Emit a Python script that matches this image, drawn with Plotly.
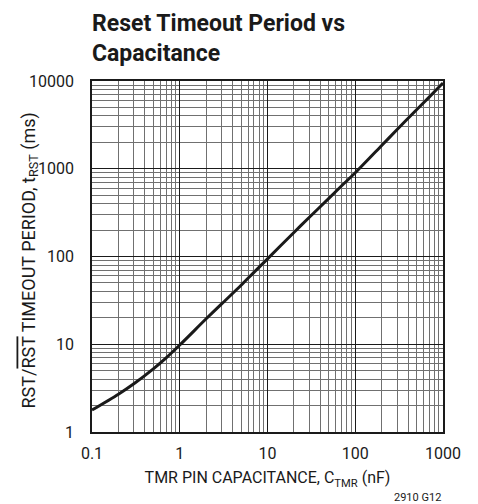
import plotly.graph_objects as go

# Data (log-log)
cap_nf = [0.1, 0.2, 0.3, 0.5, 0.7, 1, 2, 3, 5, 7, 10, 20, 30, 50, 70, 100, 200, 300, 500, 700, 1000]
t_rst_ms = [1.78, 2.7, 3.55, 5.25, 7.0, 9.8, 19.5, 28.8, 47, 66, 94, 188, 280, 460, 640, 900,
            1840, 2800, 4700, 6600, 9500]

x_ticks = [0.1, 1, 10, 100, 1000]
x_tick_labels = ["0.1", "1", "10", "100", "1000"]
y_ticks = [1, 10, 100, 1000, 10000]
y_tick_labels = ["1", "10", "100", "1000", "10000"]

FONT = "Roboto, Liberation Sans, sans-serif"
INK = "#1a1a1a"

fig = go.Figure()
fig.add_trace(go.Scatter(
    x=cap_nf, y=t_rst_ms, mode="lines",
    line=dict(color=INK, width=3, shape="spline", smoothing=0.8),
    showlegend=False, hoverinfo="skip",
))

axis_common = dict(
    type="log", automargin=False,
    showline=True, linecolor=INK, linewidth=1.5, mirror=True,
    showgrid=True, gridcolor=INK, gridwidth=1,
    zeroline=False, ticks="",
    tickfont=dict(family=FONT, size=16, color=INK),
    minor=dict(showgrid=True, gridcolor="#707070", gridwidth=1, dtick="D1", ticks=""),
)

fig.update_xaxes(
    **axis_common,
    range=[-1, 3],
    tickmode="array", tickvals=x_ticks, ticktext=x_tick_labels,
    ticklabelstandoff=6,
    title=dict(text="TMR PIN CAPACITANCE, C<sub>TMR</sub> (nF)",
               font=dict(family=FONT, size=16, color=INK), standoff=10),
)
fig.update_yaxes(
    **axis_common,
    range=[0, 4],
    tickmode="array", tickvals=y_ticks, ticktext=y_tick_labels,
    ticklabelstandoff=13,
)

fig.update_layout(
    width=478, height=504,
    margin=dict(l=92, r=35, t=81, b=72),
    paper_bgcolor="white", plot_bgcolor="white",
    annotations=[
        dict(text="<b>Reset Timeout Period vs<br>Capacitance</b>",
             xref="paper", yref="paper", x=0, y=1, xanchor="left", yanchor="bottom",
             xshift=-2, yshift=12, align="left", showarrow=False,
             font=dict(family=FONT, size=23, color=INK)),
        dict(text="RST/<span style=\"text-decoration:overline\">RST</span> TIMEOUT PERIOD, t<sub>RST</sub> (ms)",
             xref="paper", yref="paper", x=0, y=0.5, xanchor="center", yanchor="middle",
             xshift=-63, yshift=-4, textangle=-90, showarrow=False,
             font=dict(family=FONT, size=18, color=INK)),
        dict(text="2910 G12", xref="paper", yref="paper", x=1, y=0,
             xanchor="right", yanchor="top", yshift=-57, showarrow=False,
             font=dict(family=FONT, size=11, color=INK)),
    ],
)

fig.write_html("out.html", config={"displayModeBar": False},
               post_script="document.body.style.margin='0';")
